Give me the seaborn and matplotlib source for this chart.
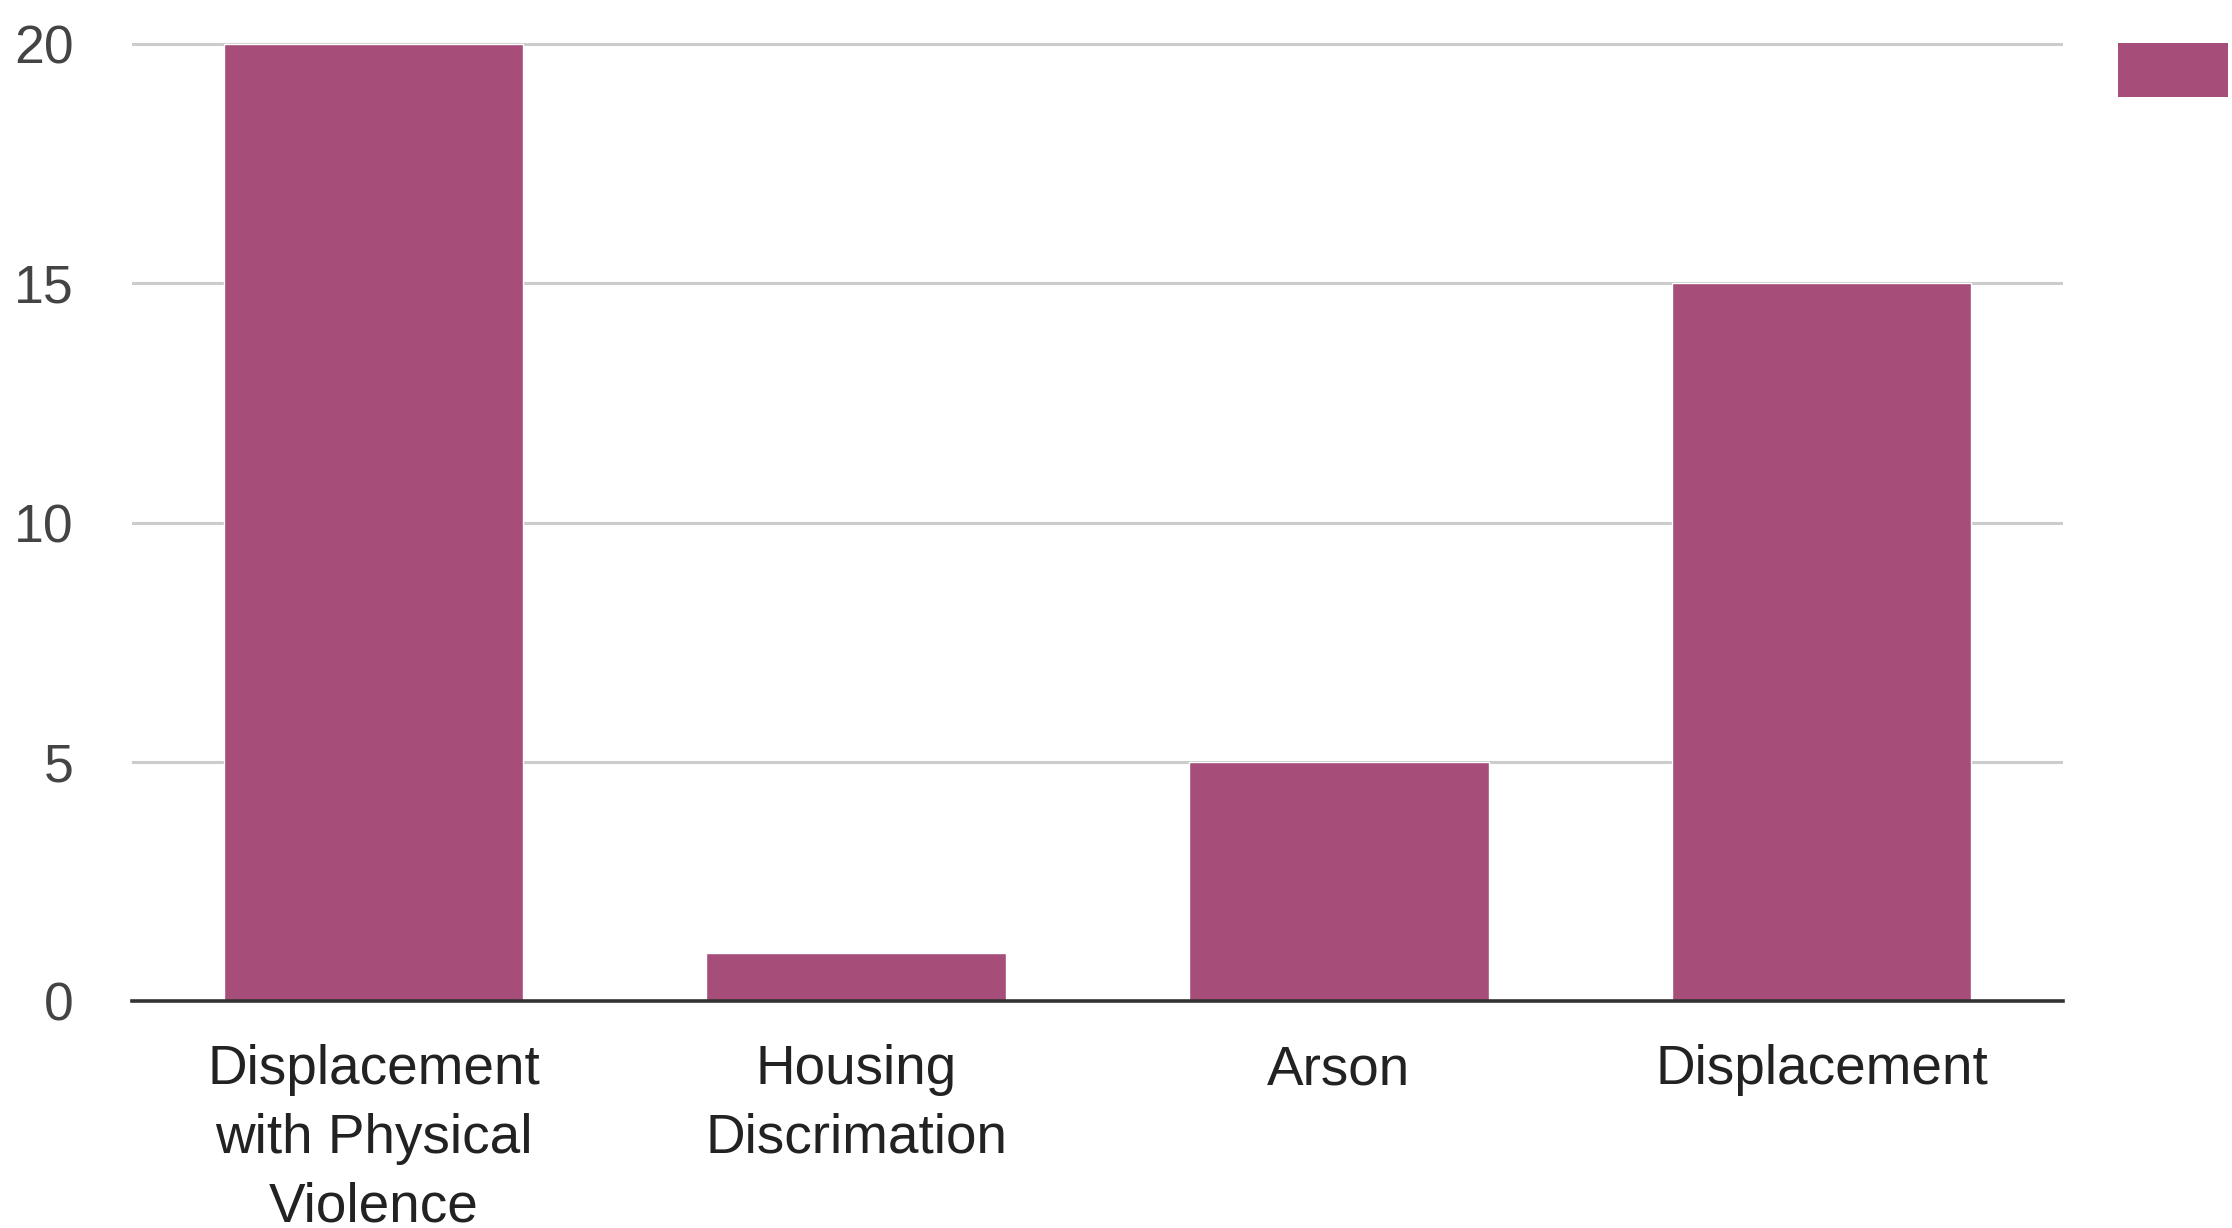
import matplotlib
matplotlib.use("Agg")
import matplotlib.pyplot as plt
from matplotlib.patches import Rectangle
import seaborn as sns
import pandas as pd

categories = ["Displacement\nwith Physical\nViolence", "Housing\nDiscrimation", "Arson", "Displacement"]
counts = [20, 1, 5, 15]
y_ticks = [0, 5, 10, 15, 20]

BAR_COLOR = "#a64d79"

sns.set_theme(style="white")
plt.rcParams["font.family"] = ["Liberation Sans", "DejaVu Sans"]

W, H = 2232, 1228
fig = plt.figure(figsize=(W / 100, H / 100), dpi=100)

# plot area: y=0 at pixel row 1001, 47.85 px per unit
y_top = 20.3
px_unit = 47.85
bottom_px = 1001
top_px = bottom_px - y_top * px_unit
ax = fig.add_axes([132 / W, 1 - bottom_px / H, (2063 - 132) / W, (bottom_px - top_px) / H])

df = pd.DataFrame({"category": categories, "count": counts})
sns.barplot(data=df, x="category", y="count", color=BAR_COLOR, saturation=1,
            width=0.62, ax=ax, zorder=3)

ax.set_xlim(-0.5, len(categories) - 0.5)
ax.set_ylim(0, y_top)
ax.set_yticks(y_ticks)
ax.set_xlabel("")
ax.set_ylabel("")

ax.yaxis.grid(True, color="#cccccc", linewidth=2.2, zorder=0)
ax.xaxis.grid(False)
for side in ["left", "right", "top"]:
    ax.spines[side].set_visible(False)
ax.spines["bottom"].set_color("#333333")
ax.spines["bottom"].set_linewidth(2.6)
ax.spines["bottom"].set_zorder(4)

ax.tick_params(axis="y", length=0, pad=42, labelsize=38.5, labelcolor="#444444")
ax.tick_params(axis="x", length=0, pad=31, labelsize=39.5, labelcolor="#222222")
for lbl in ax.get_xticklabels():
    lbl.set_linespacing(1.42)

# legend swatch at top right
fig.patches.append(Rectangle((2118 / W, 1 - 97 / H), 110 / W, 54 / H,
                             transform=fig.transFigure, facecolor=BAR_COLOR,
                             edgecolor="none"))

fig.savefig("out.png", dpi=100, facecolor="white")
